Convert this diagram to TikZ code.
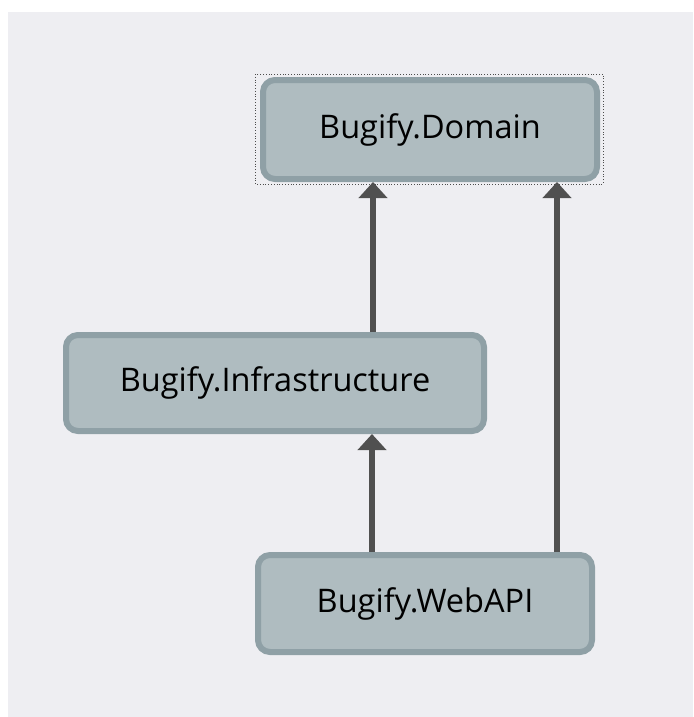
\documentclass[tikz,border=0pt]{standalone}
\usepackage{fontspec}
\setmainfont{Open Sans}
\usepackage{xcolor}
\usetikzlibrary{arrows.meta,calc,positioning}
\definecolor{canvas}{RGB}{238,238,242}
\definecolor{modfill}{RGB}{175,188,192}
\definecolor{modline}{RGB}{143,160,166}
\definecolor{deparrow}{RGB}{80,80,80}
\tikzset{%
	module/.style = {draw=modline, fill=modfill, line width=6pt, rounded corners=12pt, outer sep=3pt, text centered, font=\fontsize{32.5}{38}\selectfont},
	dep/.style    = {draw=deparrow, line width=6pt, -{Triangle[width=28pt,length=16pt]}},
	select/.style = {draw=black!70, dotted, line width=0.8pt},
}

\begin{document}
\begin{tikzpicture}[x=1pt,y=-1pt]
	\useasboundingbox (0,0) rectangle (693,717);
	\fill[white] (0,0) rectangle (693,717);
	\fill[canvas] (8,12) rectangle (693,717);
	
	\node [module, minimum width=334pt, minimum height=99pt] (domain) at (430,129.5) {Bugify.Domain};
	\node [module, minimum width=418pt, minimum height=96pt] (infra) at (275,383) {Bugify.Infrastructure};
	\node [module, minimum width=334pt, minimum height=97pt] (webapi) at (425,603.5) {Bugify.WebAPI};
	
	% selection frame round the domain module
	\draw [select] ($(domain.north west)+(-5,-3)$) rectangle ($(domain.south east)+(3,2)$);
	
	\draw [dep] (infra.north -| 373,0) -- (domain.south -| 373,0);
	\draw [dep] (webapi.north -| 372,0) -- (infra.south -| 372,0);
	\draw [dep] (webapi.north -| 557,0) -- (domain.south -| 557,0);
\end{tikzpicture}
\end{document}
